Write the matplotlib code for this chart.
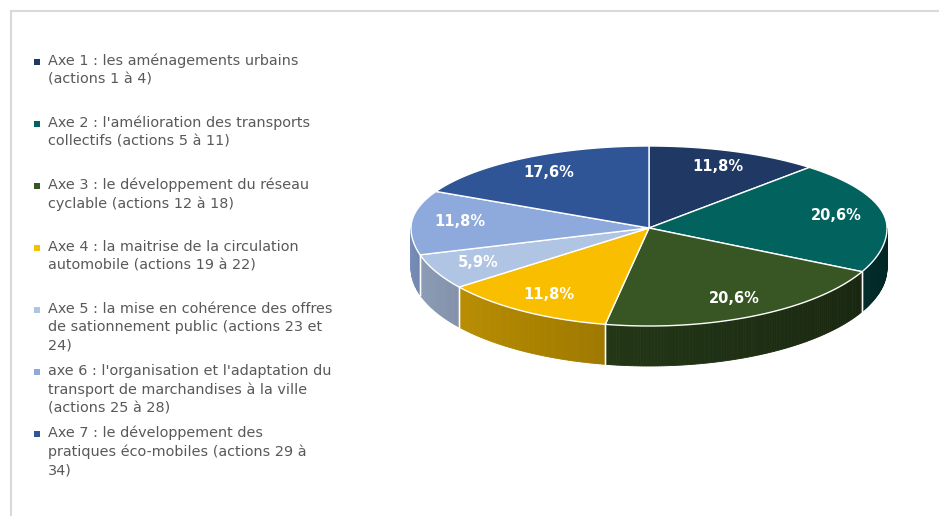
# 3D-style pie: distribution of the 34 actions across the 7 axes of the mobility plan

import numpy as np
import matplotlib.pyplot as plt
from matplotlib.patches import Polygon, Rectangle
from matplotlib.colors import to_rgb

labels = [
    "Axe 1 : les aménagements urbains\n(actions 1 à 4)",
    "Axe 2 : l'amélioration des transports\ncollectifs (actions 5 à 11)",
    "Axe 3 : le développement du réseau\ncyclable (actions 12 à 18)",
    "Axe 4 : la maitrise de la circulation\nautomobile (actions 19 à 22)",
    "Axe 5 : la mise en cohérence des offres\nde sationnement public (actions 23 et\n24)",
    "axe 6 : l'organisation et l'adaptation du\ntransport de marchandises à la ville\n(actions 25 à 28)",
    "Axe 7 : le développement des\npratiques éco-mobiles (actions 29 à\n34)",
]
n_actions = [4, 7, 7, 4, 2, 4, 6]
colors = ["#203864", "#02625E", "#375623", "#F9BE00", "#B0C4E4", "#8EA9DB", "#2F5597"]

W, H = 939, 516
fig = plt.figure(figsize=(W / 100, H / 100), dpi=100)
ax = fig.add_axes([0, 0, 1, 1])
ax.set_xlim(0, W)
ax.set_ylim(H, 0)
ax.axis("off")

# chart frame (only top and left edges visible in the crop)
ax.plot([11, W], [11, 11], color="#D9D9D9", lw=1.5)
ax.plot([11, 11], [11, H], color="#D9D9D9", lw=1.5)

# pie geometry (pixels)
cx, cy = 649, 228
rx, ry_up, ry_down = 238, 82, 98
depth = 40


def pt(theta_deg, r=1.0):
    t = np.radians(theta_deg)
    s = np.sin(t)
    ry = ry_up if s >= 0 else ry_down
    return cx + r * rx * np.cos(t), cy - r * ry * s


total = sum(n_actions)
bounds = 90 - np.concatenate([[0], np.cumsum(n_actions)]) / total * 360

# side walls (front half only, angles between -180 and 0)
for i in range(len(n_actions)):
    a0, a1 = bounds[i], bounds[i + 1]
    for shift in (0, 360):
        lo, hi = max(a1 + shift, -180), min(a0 + shift, 0)
        if hi <= lo:
            continue
        steps = np.linspace(hi, lo, max(2, int((hi - lo) / 0.7) + 1))
        base = np.array(to_rgb(colors[i]))
        for s0, s1 in zip(steps[:-1], steps[1:]):
            tm = ((s0 + s1) / 2 + 180) / 180
            f = 0.84 - 0.46 * tm
            x0, y0 = pt(s0)
            x1, y1 = pt(s1)
            quad = [(x0, y0), (x1, y1), (x1, y1 + depth), (x0, y0 + depth)]
            ax.add_patch(Polygon(quad, closed=True, facecolor=base * f,
                                 edgecolor=base * f, lw=0.6))
        # white vertical edges at slice boundaries on the wall
        for b in (hi, lo):
            if -180 < b < 0:
                x, y = pt(b)
                ax.plot([x, x], [y, y + depth], color="white", lw=1, alpha=0.9)

# top surfaces
for i in range(len(n_actions)):
    a0, a1 = bounds[i], bounds[i + 1]
    arc = np.linspace(a0, a1, 120)
    xy = [(cx, cy)] + [pt(a) for a in arc]
    ax.add_patch(Polygon(xy, closed=True, facecolor=colors[i],
                         edgecolor="white", lw=1.0, joinstyle="round"))

# percentage labels
for i, v in enumerate(n_actions):
    mid = (bounds[i] + bounds[i + 1]) / 2
    x, y = pt(mid, 0.8)
    pct = f"{v / total * 100:.1f}%".replace(".", ",")
    ax.text(x, y, pct, color="white", fontsize=10.5, fontweight="bold",
            ha="center", va="center", family="DejaVu Sans")

# legend
for i, lab in enumerate(labels):
    y = 62 + 62 * i
    ax.add_patch(Rectangle((34, y - 3), 6, 6, facecolor=colors[i], edgecolor="none"))
    ax.text(48, y - 8, lab, color="#595959", fontsize=10.4, ha="left", va="top",
            family="DejaVu Sans", linespacing=1.38)

fig.savefig("out.png", dpi=100)
